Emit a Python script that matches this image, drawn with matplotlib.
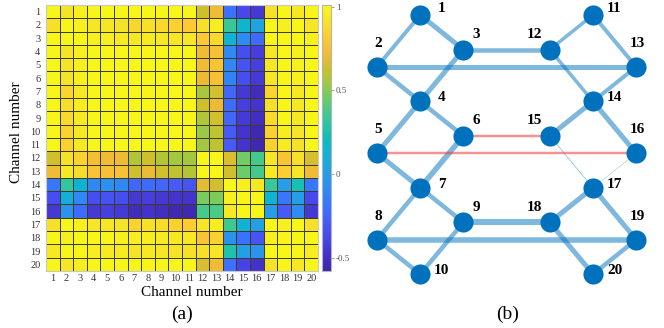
#!/usr/bin/env python3
"""channel_correlation.py"""

# Channel correlation matrix (a) and the channel connection graph (b)

from __future__ import annotations

import typing
import numpy as np
import matplotlib
matplotlib.use("Agg")
import matplotlib.pyplot as plt
from matplotlib.colors import LinearSegmentedColormap

if typing.TYPE_CHECKING:
    from matplotlib.axes import Axes

channels: list[int] = list(range(1, 21))

# Correlation between channels (row i, column j)
corr: list[list[float]] = [
    [0.98, 0.91, 0.96, 0.98, 0.98, 0.98, 0.98, 0.98, 0.98, 0.98, 0.98, 0.63, 0.72, -0.20, -0.38, -0.45, 0.90, 0.98, 0.93, 0.98],
    [0.90, 0.98, 0.96, 0.92, 0.92, 0.91, 0.86, 0.90, 0.87, 0.84, 0.80, 0.90, 0.95, 0.33, 0.15, 0.03, 0.98, 0.96, 0.98, 0.92],
    [0.98, 0.98, 0.98, 0.96, 0.96, 0.94, 0.93, 0.94, 0.93, 0.92, 0.92, 0.80, 0.87, 0.13, -0.08, -0.22, 0.98, 0.98, 0.98, 0.96],
    [0.98, 0.91, 0.96, 0.98, 0.98, 0.98, 0.98, 0.98, 0.98, 0.98, 0.98, 0.72, 0.76, -0.10, -0.35, -0.43, 0.92, 0.98, 0.96, 0.98],
    [0.98, 0.91, 0.96, 0.98, 0.98, 0.98, 0.98, 0.98, 0.98, 0.98, 0.98, 0.72, 0.78, -0.10, -0.33, -0.42, 0.92, 0.98, 0.96, 0.98],
    [0.98, 0.91, 0.96, 0.98, 0.98, 0.98, 0.98, 0.98, 0.98, 0.98, 0.98, 0.70, 0.75, -0.12, -0.35, -0.44, 0.92, 0.98, 0.96, 0.98],
    [0.98, 0.86, 0.93, 0.98, 0.98, 0.98, 0.98, 0.98, 0.98, 0.98, 0.98, 0.56, 0.64, -0.25, -0.45, -0.52, 0.85, 0.98, 0.93, 0.98],
    [0.98, 0.89, 0.95, 0.98, 0.98, 0.98, 0.98, 0.98, 0.98, 0.98, 0.98, 0.62, 0.70, -0.22, -0.42, -0.47, 0.89, 0.98, 0.93, 0.98],
    [0.98, 0.87, 0.94, 0.98, 0.98, 0.98, 0.98, 0.98, 0.98, 0.98, 0.98, 0.57, 0.64, -0.25, -0.44, -0.50, 0.87, 0.98, 0.93, 0.98],
    [0.98, 0.85, 0.93, 0.98, 0.98, 0.98, 0.98, 0.98, 0.98, 0.98, 0.98, 0.53, 0.60, -0.30, -0.47, -0.55, 0.84, 0.95, 0.92, 0.98],
    [0.98, 0.84, 0.93, 0.98, 0.98, 0.98, 0.98, 0.98, 0.98, 0.98, 0.98, 0.55, 0.60, -0.30, -0.47, -0.55, 0.84, 0.94, 0.90, 0.98],
    [0.64, 0.90, 0.84, 0.74, 0.72, 0.71, 0.57, 0.63, 0.58, 0.55, 0.55, 0.98, 0.98, 0.66, 0.46, 0.36, 0.92, 0.78, 0.90, 0.65],
    [0.72, 0.93, 0.88, 0.77, 0.76, 0.76, 0.63, 0.70, 0.64, 0.60, 0.58, 0.98, 0.98, 0.64, 0.45, 0.36, 0.94, 0.83, 0.92, 0.72],
    [-0.18, 0.32, 0.12, -0.10, -0.07, -0.10, -0.25, -0.22, -0.25, -0.30, -0.32, 0.68, 0.64, 0.98, 0.96, 0.93, 0.33, 0.00, 0.25, -0.18],
    [-0.35, 0.10, -0.10, -0.35, -0.33, -0.35, -0.45, -0.42, -0.45, -0.47, -0.47, 0.47, 0.48, 0.96, 0.98, 0.98, 0.13, -0.18, 0.00, -0.37],
    [-0.45, -0.05, -0.22, -0.45, -0.42, -0.44, -0.52, -0.48, -0.50, -0.55, -0.55, 0.37, 0.38, 0.93, 0.98, 0.98, 0.00, -0.30, -0.08, -0.45],
    [0.90, 0.98, 0.96, 0.92, 0.92, 0.91, 0.85, 0.90, 0.88, 0.84, 0.82, 0.92, 0.95, 0.35, 0.13, 0.02, 0.98, 0.96, 0.98, 0.90],
    [0.98, 0.96, 0.98, 0.98, 0.98, 0.96, 0.95, 0.95, 0.94, 0.93, 0.93, 0.78, 0.84, -0.05, -0.20, -0.32, 0.96, 0.98, 0.98, 0.98],
    [0.93, 0.98, 0.98, 0.95, 0.94, 0.94, 0.91, 0.93, 0.92, 0.91, 0.90, 0.90, 0.92, 0.27, 0.02, -0.05, 0.98, 0.98, 0.98, 0.95],
    [0.98, 0.92, 0.95, 0.98, 0.98, 0.98, 0.98, 0.98, 0.98, 0.98, 0.98, 0.66, 0.72, -0.20, -0.40, -0.48, 0.90, 0.98, 0.93, 0.98],
]
cbar_ticks: list[float] = [-0.5, 0, 0.5, 1]

# Graph layout (grid units, y upwards)
node_x: list[float] = [1, 0, 2, 1, 0, 2, 1, 0, 2, 1, 5, 4, 6, 5, 4, 6, 5, 4, 6, 5]
node_y: list[float] = [6, 4.8, 5.2, 4, 2.8, 3.2, 2, 0.8, 1.2, 0,
                       6, 5.2, 4.8, 4, 3.2, 2.8, 2, 1.2, 0.8, 0]

# Positive links (node a, node b, strength)
blue_edges: list[tuple[int, int, float]] = [
    (1, 2, 4.0), (1, 3, 5.0), (2, 4, 4.5), (3, 4, 5.0), (2, 13, 5.0), (3, 12, 4.5),
    (4, 5, 5.0), (4, 6, 4.5), (5, 7, 5.0), (6, 7, 5.5), (7, 8, 4.5), (7, 9, 4.5),
    (8, 10, 4.5), (9, 10, 4.5), (8, 19, 5.5), (9, 18, 6.0),
    (11, 12, 3.5), (11, 13, 4.0), (12, 14, 3.5), (13, 14, 4.0), (14, 15, 5.0), (14, 16, 5.0),
    (15, 17, 0.7), (16, 17, 0.4),
    (17, 18, 5.0), (17, 19, 5.0), (18, 20, 5.0), (19, 20, 4.5),
]
# Negative links
red_edges: list[tuple[int, int, float]] = [(6, 15, 2.5), (5, 16, 2.5)]

# Label offsets in points by node group
label_offsets: dict[int, tuple[float, float]] = {}
for n in (1, 11):
    label_offsets[n] = (15.5, 5)
for n in (4, 7, 10, 14, 17, 20):
    label_offsets[n] = (15.5, 2.5)
for n in (2, 5, 8, 13, 16, 19):
    label_offsets[n] = (1, 17)
for n in (3, 6, 9):
    label_offsets[n] = (9, 11)
for n in (12, 15, 18):
    label_offsets[n] = (-11, 11)

# parula-like colormap
PARULA = [
    (0.2422, 0.1504, 0.6603), (0.2647, 0.1978, 0.7952), (0.2803, 0.2782, 0.9221),
    (0.2760, 0.3667, 0.9829), (0.2206, 0.4603, 0.9973), (0.1764, 0.5499, 0.9520),
    (0.1380, 0.6276, 0.8973), (0.0689, 0.6948, 0.8394), (0.0433, 0.7411, 0.7394),
    (0.1938, 0.7758, 0.6251), (0.3406, 0.8008, 0.4789), (0.5616, 0.7942, 0.3045),
    (0.7738, 0.7598, 0.1646), (0.9393, 0.7288, 0.2100), (0.9952, 0.7893, 0.2028),
    (0.9610, 0.8890, 0.1537), (0.9769, 0.9839, 0.0805),
]

SERIF = ["Liberation Serif", "DejaVu Serif"]


def draw_heatmap(fig: plt.Figure) -> None:
    """Correlation heatmap with colourbar"""
    ax: Axes = fig.add_axes([46 / 664, 57 / 328, 272 / 664, 266 / 328])
    cmap = LinearSegmentedColormap.from_list("parula", PARULA)
    edges = np.arange(len(channels) + 1) + 0.5
    mesh = ax.pcolormesh(edges, edges, np.array(corr), cmap=cmap,
                         vmin=-0.58, vmax=1.01,
                         edgecolors="#3c3c28", linewidth=0.55)
    ax.set_xlim(edges[0], edges[-1])
    ax.set_ylim(edges[-1], edges[0])

    ax.set_xticks(channels)
    ax.set_yticks(channels)
    ax.set_xticklabels([str(c) for c in channels], family=SERIF, size=7.5, color="#333333")
    ax.set_yticklabels([str(c) for c in channels], family=SERIF, size=7.5, color="#333333")
    ax.tick_params(axis="x", length=0, pad=2.5)
    ax.tick_params(axis="y", length=0, pad=4)
    for s in ax.spines.values():
        s.set_color("#c8c8c8")
        s.set_linewidth(0.8)

    ax.set_xlabel("Channel number", family=SERIF, size=11)
    ax.set_ylabel("Channel number", family=SERIF, size=11)
    ax.xaxis.set_label_coords(0.535, -0.058)
    ax.yaxis.set_label_coords(-0.085, 0.52)

    # Colourbar
    cax: Axes = fig.add_axes([322 / 664, 57 / 328, 9 / 664, 266 / 328])
    cb = fig.colorbar(mesh, cax=cax, ticks=cbar_ticks)
    cb.ax.set_yticklabels([f"{t:g}" for t in cbar_ticks], family=SERIF, size=6.5, color="#555555")
    cb.ax.tick_params(length=2, width=0.5, color="#777777", pad=1.5)
    cb.outline.set_edgecolor("#b4b4b4")
    cb.outline.set_linewidth(0.8)

    fig.text(182 / 664, 1 - 314 / 328, "(a)", family=SERIF, size=14,
             ha="center", va="center")


def draw_graph(fig: plt.Figure) -> None:
    """Channel graph: blue for positive links, red for negative"""
    ax: Axes = fig.add_axes([330 / 664, 0, 334 / 664, 1])
    ax.set_xlim(-1.088, 6.644)
    ax.set_ylim(-1.245, 6.347)
    ax.set_aspect("equal")
    ax.axis("off")

    px_to_pt = 0.72
    for a, b, w in blue_edges:
        ax.plot([node_x[a - 1], node_x[b - 1]], [node_y[a - 1], node_y[b - 1]],
                color="#0072BD", alpha=0.5, linewidth=w * px_to_pt,
                solid_capstyle="butt", zorder=1)
    for a, b, w in red_edges:
        ax.plot([node_x[a - 1], node_x[b - 1]], [node_y[a - 1], node_y[b - 1]],
                color="#EE3B3B", alpha=0.55, linewidth=w * px_to_pt,
                solid_capstyle="butt", zorder=1)

    ax.plot(node_x, node_y, "o", color="#0072BD", markersize=14.5,
            markeredgewidth=0, zorder=3)

    for i, c in enumerate(channels):
        dx, dy = label_offsets[c]
        ax.annotate(str(c), (node_x[i], node_y[i]), xytext=(dx, dy),
                    textcoords="offset points", ha="center", va="center",
                    family=SERIF, weight="bold", size=11, zorder=4)

    fig.text(508 / 664, 1 - 314 / 328, "(b)", family=SERIF, size=14,
             ha="center", va="center")


def main() -> None:
    fig = plt.figure(figsize=(6.64, 3.28), dpi=100)
    draw_heatmap(fig)
    draw_graph(fig)
    fig.savefig("out.png", dpi=100)


if __name__ == "__main__":
    main()
